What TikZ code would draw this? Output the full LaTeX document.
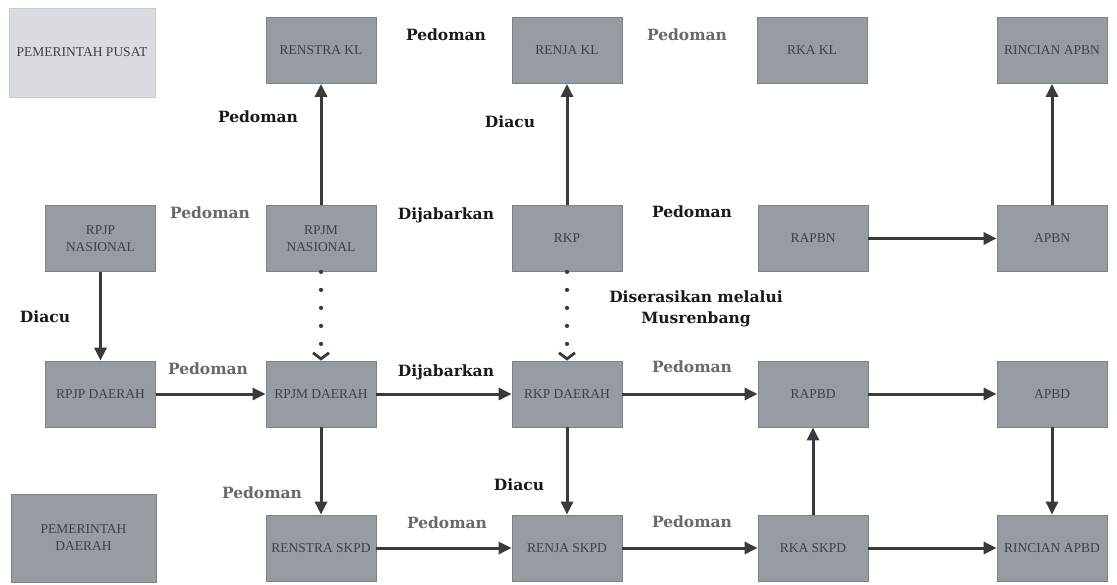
\documentclass[tikz,border=0pt]{standalone}
\usepackage{fontspec}
\setmainfont{Liberation Serif}
\newfontfamily\lblfont{DejaVu Serif}
\usetikzlibrary{arrows.meta}
\definecolor{boxfill}{RGB}{150,156,162}
\definecolor{boxline}{RGB}{125,130,136}
\definecolor{boxtext}{RGB}{62,64,68}
\definecolor{lightfill}{RGB}{216,220,224}
\definecolor{lightline}{RGB}{200,204,208}
\definecolor{arrowcol}{RGB}{58,58,62}
\definecolor{lblblack}{RGB}{25,25,25}
\definecolor{lblgray}{RGB}{105,105,105}
\tikzset{
  box/.style={rectangle, fill=boxfill, draw=boxline, line width=0.8pt,
    minimum width=110pt, minimum height=66pt, inner sep=0pt, align=center,
    text=boxtext, font=\fontsize{13.5}{17}\selectfont},
  arr/.style={draw=arrowcol, line width=3pt, -{Triangle[length=13pt,width=12pt]}},
  dotarr/.style={draw=arrowcol, line width=4.2pt, line cap=round,
    dash pattern=on 0pt off 18pt,
    -{Straight Barb[length=6pt,width=16pt,line width=2.8pt]}},
  lbl/.style={font=\lblfont\bfseries\fontsize{15.5}{21}\selectfont, text=lblblack,
    inner sep=0pt, align=center},
  lblg/.style={lbl, text=lblgray},
}
\begin{document}
\begin{tikzpicture}[x=1pt,y=-1pt]
\useasboundingbox[fill=white] (0,0) rectangle (1117,584);
% row 0
\node[box, fill=lightfill, draw=lightline, minimum width=146pt, minimum height=89pt] (pusat) at (82,52.5) {PEMERINTAH PUSAT};
\node[box] (renstrakl) at (321,50.5) {RENSTRA KL};
\node[box] (renjakl) at (567,50.5) {RENJA KL};
\node[box] (rkakl) at (812,50.5) {RKA KL};
\node[box] (rincianapbn) at (1052,50.5) {RINCIAN APBN};
% row 1
\node[box] (rpjpn) at (100.5,238.5) {RPJP\\NASIONAL};
\node[box] (rpjmn) at (321,238.5) {RPJM\\NASIONAL};
\node[box] (rkp) at (567,238.5) {RKP};
\node[box] (rapbn) at (813,238.5) {RAPBN};
\node[box] (apbn) at (1052,238.5) {APBN};
% row 2
\node[box] (rpjpd) at (100.5,394) {RPJP DAERAH};
\node[box] (rpjmd) at (321,394) {RPJM DAERAH};
\node[box] (rkpd) at (567,394) {RKP DAERAH};
\node[box] (rapbd) at (813,394) {RAPBD};
\node[box] (apbd) at (1052,394) {APBD};
% row 3
\node[box, minimum width=145pt, minimum height=88pt] (pemda) at (83.5,538) {PEMERINTAH\\DAERAH};
\node[box] (renstraskpd) at (321,548) {RENSTRA SKPD};
\node[box] (renjaskpd) at (567,548) {RENJA SKPD};
\node[box] (rkaskpd) at (813,548) {RKA SKPD};
\node[box] (rincianapbd) at (1052,548) {RINCIAN APBD};
% connectors
\draw[arr] (rpjmn) -- (renstrakl);
\draw[arr] (rkp) -- (renjakl);
\draw[arr] (apbn) -- (rincianapbn);
\draw[arr] (rapbn) -- (apbn);
\draw[arr] (rpjpn) -- (rpjpd);
\draw[arr] (rpjpd) -- (rpjmd);
\draw[arr] (rpjmd) -- (rkpd);
\draw[arr] (rkpd) -- (rapbd);
\draw[arr] (rapbd) -- (apbd);
\draw[arr] (rpjmd) -- (renstraskpd);
\draw[arr] (rkpd) -- (renjaskpd);
\draw[arr] (apbd) -- (rincianapbd);
\draw[arr] (rkaskpd) -- (rapbd);
\draw[arr] (renstraskpd) -- (renjaskpd);
\draw[arr] (renjaskpd) -- (rkaskpd);
\draw[arr] (rkaskpd) -- (rincianapbd);
\draw[dotarr] (rpjmn.south) -- (rpjmd.north);
\draw[dotarr] (rkp.south) -- (rkpd.north);
% labels
\node[lbl]  (l1)  at (446,35) {Pedoman};
\node[lblg] (l2)  at (687,35) {Pedoman};
\node[lbl]  (l3)  at (258,117) {Pedoman};
\node[lbl]  (l4)  at (510,122) {Diacu};
\node[lblg] (l5)  at (210,213) {Pedoman};
\node[lbl]  (l6)  at (446,215) {Dijabarkan};
\node[lbl]  (l7)  at (692,212) {Pedoman};
\node[lbl]  (l8)  at (696,309) {Diserasikan melalui\\Musrenbang};
\node[lbl]  (l9)  at (45,317) {Diacu};
\node[lblg] (l10) at (208,369) {Pedoman};
\node[lbl]  (l11) at (446,372) {Dijabarkan};
\node[lblg] (l12) at (692,367) {Pedoman};
\node[lblg] (l13) at (262,493) {Pedoman};
\node[lbl]  (l14) at (519,485) {Diacu};
\node[lblg] (l15) at (447,523) {Pedoman};
\node[lblg] (l16) at (692,522) {Pedoman};
\end{tikzpicture}
\end{document}
